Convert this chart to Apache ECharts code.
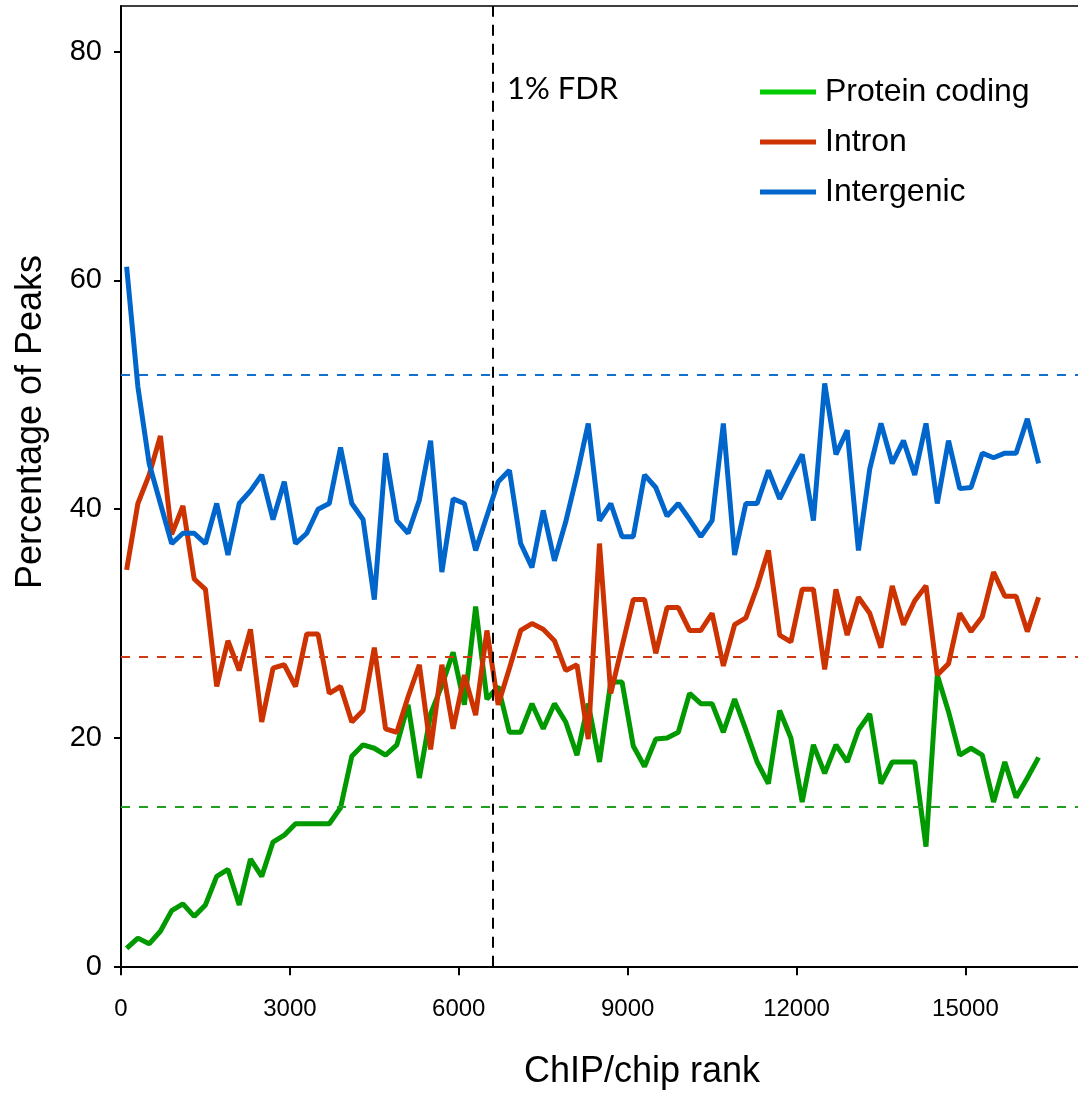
<!DOCTYPE html>
<html>
<head>
<meta charset="utf-8">
<script src="https://cdn.jsdelivr.net/npm/echarts@6/dist/echarts.min.js"></script>
<style>
html,body{margin:0;padding:0;background:#fff;}
#chart{width:1078px;height:1095px;}
</style>
</head>
<body>
<div id="chart"></div>
<script>
// ChIP/chip rank (bin centres)
const ranks = [100,300,500,700,900,1100,1300,1500,1700,1900,2100,2300,2500,2700,2900,3100,3300,3500,3700,3900,
  4100,4300,4500,4700,4900,5100,5300,5500,5700,5900,6100,6300,6500,6700,6900,7100,7300,7500,7700,7900,
  8100,8300,8500,8700,8900,9100,9300,9500,9700,9900,10100,10300,10500,10700,10900,11100,11300,11500,11700,11900,
  12100,12300,12500,12700,12900,13100,13300,13500,13700,13900,14100,14300,14500,14700,14900,15100,15300,15500,15700,15900,
  16100,16300];

const proteinCoding = [1.6,2.5,2.0,3.1,4.9,5.5,4.4,5.4,7.9,8.5,
  5.4,9.4,7.9,10.9,11.5,12.5,12.5,12.5,12.5,13.9,
  18.4,19.4,19.1,18.5,19.4,22.9,16.5,22.1,24.6,27.5,
  22.9,31.5,23.4,24.5,20.5,20.5,23.0,20.8,23.0,21.4,
  18.5,23.0,17.9,24.9,24.9,19.3,17.5,19.9,20.0,20.5,
  23.9,23.0,23.0,20.5,23.4,20.7,17.9,16.0,22.4,20.0,
  14.4,19.4,16.9,19.4,17.9,20.7,22.1,16.0,17.9,17.9,
  17.9,10.5,25.5,22.3,18.5,19.1,18.5,14.4,17.9,14.8,
  16.5,18.3];

const intron = [34.7,40.5,43.0,46.4,37.8,40.3,33.9,33.0,24.5,28.5,
  25.9,29.5,21.4,26.1,26.4,24.5,29.1,29.1,23.9,24.5,
  21.4,22.4,27.9,20.8,20.5,23.6,26.4,19.0,26.4,20.8,
  25.5,22.0,29.4,22.9,26.1,29.4,30.0,29.5,28.5,25.9,
  26.4,19.9,37.0,23.9,28.0,32.1,32.1,27.4,31.4,31.4,
  29.4,29.4,30.9,26.3,29.9,30.5,33.2,36.4,29.0,28.4,
  33.0,33.0,26.0,33.0,29.0,32.3,30.9,27.9,33.3,29.9,
  32.0,33.3,25.5,26.5,30.9,29.3,30.6,34.5,32.4,32.4,
  29.3,32.3];

const intergenic = [61.2,50.7,44.0,40.5,37.0,37.9,37.9,37.0,40.5,36.0,
  40.5,41.6,43.0,39.1,42.4,37.0,37.9,40.0,40.5,45.4,
  40.5,39.1,32.1,44.9,39.0,37.9,40.8,46.0,34.5,40.9,
  40.5,36.4,39.4,42.4,43.4,37.0,34.9,39.9,35.5,38.9,
  43.0,47.5,39.0,40.5,37.6,37.6,43.0,41.9,39.4,40.5,
  39.1,37.6,39.0,47.5,36.0,40.5,40.5,43.4,40.9,42.9,
  44.8,39.0,51.0,44.8,46.9,36.4,43.5,47.5,44.0,46.0,
  43.0,47.5,40.5,46.0,41.8,41.9,44.9,44.5,44.9,44.9,
  47.9,44.0];

// genomic background percentages (dashed lines)
const background = { proteinCoding: 14.0, intron: 27.1, intergenic: 51.8 };
const fdrRank = 6600;

const xTicks = [0,3000,6000,9000,12000,15000];
const yTicks = [0,20,40,60,80];
const seriesNames = ['Protein coding','Intron','Intergenic'];

const colors = { green:'#009900', red:'#cc3300', blue:'#0066cc', legendGreen:'#00cc00' };
const FONT = '"Liberation Sans", Arial, sans-serif';

const pair = arr => ranks.map((r,i)=>[r, arr[i]]);

function refLine(value, color){
  return {
    symbol:'none', silent:true, label:{show:false},
    lineStyle:{type:[9,9], width:2, color:color},
    data:[{yAxis:value}]
  };
}

const chart = echarts.init(document.getElementById('chart'), null, {renderer:'canvas'});
chart.setOption({
  animation:false,
  backgroundColor:'#fff',
  grid:{left:121, right:0, top:6, bottom:128.3, containLabel:false},
  legend:{
    orient:'vertical', left:760, top:76, padding:0,
    itemWidth:56, itemHeight:5, itemGap:18,
    icon:'rect',
    textStyle:{fontFamily:FONT, fontSize:32, color:'#000', lineHeight:32, padding:[0,0,0,4]},
    data:[
      {name:seriesNames[0], itemStyle:{color:colors.legendGreen}},
      {name:seriesNames[1], itemStyle:{color:colors.red}},
      {name:seriesNames[2], itemStyle:{color:colors.blue}}
    ]
  },
  xAxis:[{
    type:'value', min:0, max:17000, interval:3000,
    axisLine:{show:true, onZero:false, lineStyle:{color:'#000', width:2}},
    axisTick:{show:true, length:8.5, inside:false, lineStyle:{color:'#000', width:2}, customValues:xTicks},
    axisLabel:{show:true, margin:31, fontFamily:FONT, fontSize:24, color:'#000', customValues:xTicks,
      formatter:v=>String(v)},
    splitLine:{show:false}
  },{
    type:'value', position:'top', min:0, max:17000,
    axisLine:{show:true, onZero:false, lineStyle:{color:'#000', width:1.5}},
    axisTick:{show:false}, axisLabel:{show:false}, splitLine:{show:false}
  }],
  yAxis:{
    type:'value', min:0, max:84, interval:20,
    axisLine:{show:true, onZero:false, lineStyle:{color:'#000', width:2}},
    axisTick:{show:true, length:7, lineStyle:{color:'#000', width:2}, customValues:yTicks},
    axisLabel:{show:true, margin:19, fontFamily:FONT, fontSize:29, color:'#000', customValues:yTicks,
      formatter:v=>String(v)},
    splitLine:{show:false}
  },
  series:[
    {
      name:seriesNames[0], type:'line', data:pair(proteinCoding), symbol:'none',
      lineStyle:{color:colors.green, width:5}, itemStyle:{color:colors.green},
      markLine:refLine(background.proteinCoding, '#22a022'), z:3
    },
    {
      name:seriesNames[1], type:'line', data:pair(intron), symbol:'none',
      lineStyle:{color:colors.red, width:5}, itemStyle:{color:colors.red},
      markLine:refLine(background.intron, '#d03a10'), z:4
    },
    {
      name:seriesNames[2], type:'line', data:pair(intergenic), symbol:'none',
      lineStyle:{color:colors.blue, width:5}, itemStyle:{color:colors.blue},
      markLine:{
        symbol:'none', silent:true, label:{show:false},
        data:[
          {yAxis:background.intergenic, lineStyle:{type:[9,9], width:2, color:'#1470d0'}},
          {xAxis:fdrRank, lineStyle:{type:[11,8], width:2, color:'#000'}}
        ]
      }, z:5
    }
  ],
  graphic:[
    {type:'text', left:507, top:73, style:{text:'1% FDR', font:'31px Lato, "Open Sans", sans-serif', fill:'#000'}},
    {type:'text', x:642, y:1072, style:{text:'ChIP/chip rank', font:'36px '+FONT, fill:'#000', align:'center', verticalAlign:'middle'}},
    {type:'text', x:31, y:422, rotation:Math.PI/2, style:{text:'Percentage of Peaks', font:'36px '+FONT, fill:'#000', align:'center', verticalAlign:'middle'}}
  ]
});
</script>
</body>
</html>
